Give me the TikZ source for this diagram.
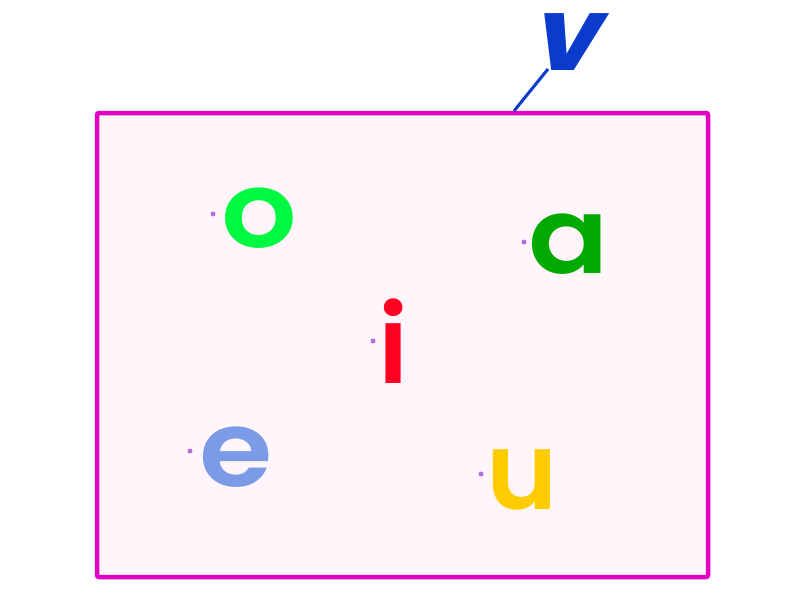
\documentclass[tikz,border=0pt]{standalone}
\usepackage{fontspec}
\setmainfont{Poppins}
\newfontfamily\pfont[FakeStretch=1.12]{Poppins SemiBold}
\newfontfamily\pfontn{Poppins SemiBold}
\newfontfamily\vfont[FakeSlant=0.25,FakeStretch=1.05]{Poppins Bold}
\definecolor{frame}{HTML}{E100C3}
\definecolor{framefill}{HTML}{FFF5FA}
\definecolor{cO}{HTML}{00F843}
\definecolor{cA}{HTML}{00AA00}
\definecolor{cI}{HTML}{FF0020}
\definecolor{cE}{HTML}{7B9BE6}
\definecolor{cU}{HTML}{FFCC00}
\definecolor{cV}{HTML}{0A3BCC}
\definecolor{cdot}{HTML}{B070E0}
\tikzset{
  letter/.style={inner sep=0pt, anchor=base, font=\fontsize{106}{106}\pfont},
  nletter/.style={inner sep=0pt, anchor=base, font=\fontsize{108}{108}\pfontn},
  pdot/.style={circle, fill=cdot, inner sep=0pt, minimum size=5pt}
}
\begin{document}
\begin{tikzpicture}[x=1pt,y=-1pt]
\useasboundingbox (0,0) rectangle (800,600);
\draw[frame, line width=4.5pt, fill=framefill, rounded corners=2pt] (97,113) rectangle (708,577);
\coordinate (vtop) at (548,69);
\coordinate (vbot) at (514,111);
\draw[cV, line width=3pt] (vbot) -- (vtop);
\node[letter, text=cV, font=\fontsize{102}{102}\vfont] (v) at (563,70) {v};
\node[letter, text=cO] (o) at (259,247) {o};
\node[letter, text=cA] (a) at (569,273) {a};
\node[nletter, text=cI] (i) at (394,383) {i};
\node[letter, text=cE] (e) at (236,486) {e};
\node[nletter, text=cU] (u) at (522,509) {u};
\node[pdot] (d1) at (213,214) {};
\node[pdot] (d2) at (524,242) {};
\node[pdot] (d3) at (373,341) {};
\node[pdot] (d4) at (190,451) {};
\node[pdot] (d5) at (481,474) {};
\end{tikzpicture}
\end{document}
